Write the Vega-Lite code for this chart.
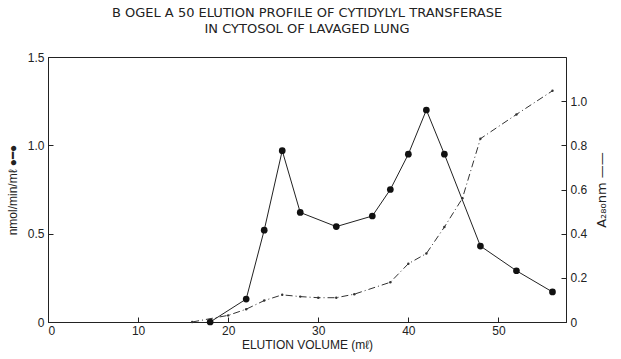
{
  "$schema": "https://vega.github.io/schema/vega-lite/v6.json",
  "autosize": "none",
  "width": 518,
  "height": 265,
  "padding": {"left": 48, "top": 57, "right": 55, "bottom": 37},
  "background": "white",
  "config": {
    "view": {"stroke": "#222", "strokeWidth": 1},
    "font": "Liberation Sans",
    "axis": {
      "domainColor": "#222",
      "tickColor": "#222",
      "tickWidth": 1,
      "labelColor": "#222",
      "titleColor": "#222",
      "grid": false,
      "labelFont": "Liberation Sans",
      "labelFontSize": 12,
      "titleFont": "Liberation Sans",
      "titleFontWeight": "normal",
      "titleFontSize": 12,
      "tickSize": -5,
      "labelPadding": 9
    }
  },
  "title": {
    "text": ["B OGEL A 50 ELUTION PROFILE OF CYTIDYLYL TRANSFERASE", "IN CYTOSOL OF LAVAGED LUNG"],
    "font": "DejaVu Sans",
    "fontSize": 13,
    "fontWeight": "normal",
    "color": "#222",
    "anchor": "middle",
    "offset": 15,
    "lineHeight": 16
  },
  "datasets": {
    "activity": [
      {"vol": 18, "act": 0.0},
      {"vol": 22, "act": 0.13},
      {"vol": 24, "act": 0.52},
      {"vol": 26, "act": 0.97},
      {"vol": 28, "act": 0.62},
      {"vol": 32, "act": 0.54},
      {"vol": 36, "act": 0.6},
      {"vol": 38, "act": 0.75},
      {"vol": 40, "act": 0.95},
      {"vol": 42, "act": 1.2},
      {"vol": 44, "act": 0.95},
      {"vol": 48, "act": 0.43},
      {"vol": 52, "act": 0.29},
      {"vol": 56, "act": 0.17}
    ],
    "a280": [
      {"vol": 16, "abs": 0.0},
      {"vol": 20, "abs": 0.03},
      {"vol": 22, "abs": 0.058},
      {"vol": 24, "abs": 0.097},
      {"vol": 26, "abs": 0.123},
      {"vol": 28, "abs": 0.115},
      {"vol": 30, "abs": 0.11},
      {"vol": 32, "abs": 0.11},
      {"vol": 34, "abs": 0.126},
      {"vol": 38, "abs": 0.18},
      {"vol": 40, "abs": 0.264},
      {"vol": 42, "abs": 0.31},
      {"vol": 44, "abs": 0.43},
      {"vol": 46, "abs": 0.56},
      {"vol": 48, "abs": 0.83},
      {"vol": 52, "abs": 0.94},
      {"vol": 56, "abs": 1.047}
    ]
  },
  "layer": [
    {
      "data": {"name": "activity"},
      "encoding": {
        "x": {
          "field": "vol", "type": "quantitative",
          "scale": {"domain": [0, 57.5], "nice": false},
          "axis": {"values": [0, 10, 20, 30, 40, 50], "title": "ELUTION VOLUME (mℓ)", "labelPadding": 8, "titlePadding": 3}
        },
        "y": {
          "field": "act", "type": "quantitative",
          "scale": {"domain": [0, 1.5], "nice": false},
          "axis": {
            "orient": "left",
            "values": [0, 0.5, 1, 1.5],
            "labelExpr": "datum.value == 0 ? '0' : format(datum.value, '.1f')",
            "title": "nmol/min/mℓ    ●━●",
            "titlePadding": 8
          }
        }
      },
      "layer": [
        {"mark": {"type": "line", "color": "#222", "strokeWidth": 1}},
        {"mark": {"type": "point", "filled": true, "color": "#111", "size": 45, "opacity": 1}}
      ]
    },
    {
      "data": {"name": "a280"},
      "encoding": {
        "x": {"field": "vol", "type": "quantitative"},
        "y": {
          "field": "abs", "type": "quantitative",
          "scale": {"domain": [0, 1.2], "nice": false},
          "axis": {
            "orient": "right",
            "values": [0, 0.2, 0.4, 0.6, 0.8, 1.0],
            "labelExpr": "datum.value == 0 ? '0' : format(datum.value, '.1f')",
            "title": "A₂₈₀nm    ——",
            "titleFont": "DejaVu Sans",
            "titleFontSize": 13,
            "titleAngle": 270,
            "titlePadding": 22
          }
        }
      },
      "layer": [
        {"mark": {"type": "line", "color": "#333", "strokeWidth": 1, "strokeDash": [7, 3, 1, 3]}},
        {"mark": {"type": "point", "filled": true, "color": "#333", "size": 6, "opacity": 1}}
      ]
    }
  ],
  "resolve": {"scale": {"y": "independent"}}
}
